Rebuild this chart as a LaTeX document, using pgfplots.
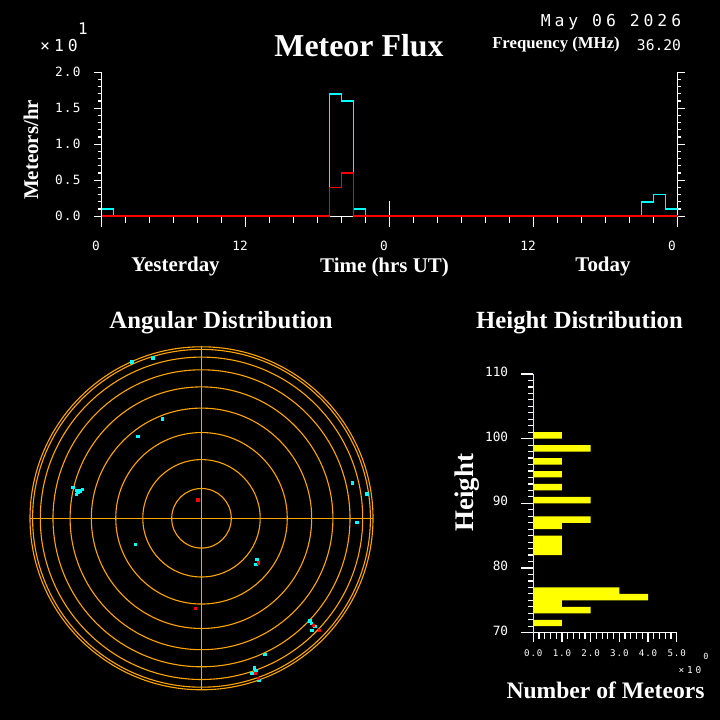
\documentclass[border=0pt]{standalone}
\usepackage{fontspec}
\setmainfont{Liberation Serif}
\newfontfamily\monoA{DejaVu Sans Mono}
\newfontfamily\monoB[LetterSpace=24]{DejaVu Sans Mono}
\newfontfamily\monoC[LetterSpace=10]{DejaVu Sans Mono}
\newfontfamily\monoD[LetterSpace=30]{DejaVu Sans Mono}
\usepackage{pgfplots}
\pgfplotsset{compat=1.18}
\definecolor{hcyan}{RGB}{0,255,255}
\definecolor{hred}{RGB}{255,0,0}
\definecolor{horange}{RGB}{255,165,0}
\definecolor{hyellow}{RGB}{255,255,0}
\newcommand{\ticktop}{\monoC\fontsize{12.8}{13}\selectfont}
\newcommand{\tickh}{\monoA\fontsize{12.8}{13}\selectfont}
\newcommand{\tickhx}{\monoC\fontsize{9.2}{10}\selectfont}
\tikzset{tk/.style={white, line width=1.2bp}}
\begin{document}
\begin{tikzpicture}
\path[use as bounding box] (0,0) rectangle (720bp,720bp);
\fill[black] (0,0) rectangle (720bp,720bp);
% ---------- texts at the top ----------
\node[text=white, inner sep=0, font=\monoB\fontsize{16.5}{17}\selectfont] at (59bp,674bp) {×10};
\node[text=white, inner sep=0, font=\monoB\fontsize{16}{17}\selectfont] at (83bp,691bp) {1};
\node[text=white, inner sep=0, font=\bfseries\fontsize{32}{34}\selectfont] at (359bp,674bp) {Meteor Flux};
\node[text=white, inner sep=0, font=\monoB\fontsize{16.5}{17}\selectfont] at (611bp,698.3bp) {May 06 2026};
\node[text=white, inner sep=0, font=\bfseries\fontsize{16.8}{17}\selectfont] at (556bp,675bp) {Frequency (MHz)};
\node[text=white, inner sep=0, font=\monoA\fontsize{14.7}{15}\selectfont] at (659bp,675bp) {36.20};
\node[text=white, inner sep=0, rotate=90, font=\bfseries\fontsize{21}{22}\selectfont] at (31bp,570bp) {Meteors/hr};
\node[text=white, inner sep=0, font=\bfseries\fontsize{21}{22}\selectfont] at (175.5bp,453bp) {Yesterday};
\node[text=white, inner sep=0, font=\bfseries\fontsize{21}{22}\selectfont] at (384.5bp,453bp) {Time (hrs UT)};
\node[text=white, inner sep=0, font=\bfseries\fontsize{21}{22}\selectfont] at (603bp,453bp) {Today};
\node[text=white, inner sep=0, font=\bfseries\fontsize{24.8}{26}\selectfont] at (221bp,397bp) {Angular Distribution};
\node[text=white, inner sep=0, font=\bfseries\fontsize{24.8}{26}\selectfont] at (579.5bp,397bp) {Height Distribution};
\node[text=white, inner sep=0, rotate=90, font=\bfseries\fontsize{27}{28}\selectfont] at (466.7bp,227.3bp) {Height};
\node[text=white, inner sep=0, font=\bfseries\fontsize{23.7}{25}\selectfont] at (605.5bp,30bp) {Number of Meteors};
\node[text=white, inner sep=0, font=\monoD\fontsize{9.5}{10}\selectfont] at (690bp,50bp) {×10};
\node[text=white, inner sep=0, font=\monoA\fontsize{8.5}{9}\selectfont] at (706bp,64bp) {0};
% ---------- Meteor flux ----------
\begin{axis}[at={(101.5bp,503.7bp)}, anchor=south west, scale only axis,
  width=576bp, height=144bp, xmin=0, xmax=48, ymin=0, ymax=2,
  hide axis, clip=false, no marks]
\draw[tk] (axis cs:0,0) -- (axis cs:48,0);
\draw[tk] (axis cs:0,2) -- (axis cs:0,0) -- ++(0bp,-11bp);
\draw[tk] (axis cs:48,2) -- (axis cs:48,0) -- ++(0bp,-11bp);
\pgfplotsinvokeforeach{0.1,0.2,0.3,0.4,0.6,0.7,0.8,0.9,1.1,1.2,1.3,1.4,1.6,1.7,1.8,1.9}{
  \draw[tk] (axis cs:0,#1) -- ++(-4bp,0bp);
  \draw[tk] (axis cs:48,#1) -- ++(3.5bp,0bp);}
\pgfplotsinvokeforeach{0,0.5,1,1.5,2}{
  \draw[tk] (axis cs:0,#1) -- ++(-8bp,0bp);
  \draw[tk] (axis cs:48,#1) -- ++(7bp,0bp);}
\pgfplotsinvokeforeach{2,4,6,8,10,14,16,18,20,22,26,28,30,32,34,38,40,42,44,46}{
  \draw[tk] (axis cs:#1,0) -- ++(0bp,-7bp);}
\draw[tk] (axis cs:12,0) -- ++(0bp,-11bp);
\draw[tk] (axis cs:36,0) -- ++(0bp,-11bp);
\draw[tk] (axis cs:24,0) ++(0bp,15bp) -- ++(0bp,-26bp);
\node[anchor=east, inner sep=0, text=white, font=\ticktop, xshift=-20.7bp] at (axis cs:0,0) {0.0};
\node[anchor=east, inner sep=0, text=white, font=\ticktop, xshift=-20.7bp] at (axis cs:0,0.5) {0.5};
\node[anchor=east, inner sep=0, text=white, font=\ticktop, xshift=-20.7bp] at (axis cs:0,1) {1.0};
\node[anchor=east, inner sep=0, text=white, font=\ticktop, xshift=-20.7bp] at (axis cs:0,1.5) {1.5};
\node[anchor=east, inner sep=0, text=white, font=\ticktop, xshift=-20.7bp] at (axis cs:0,2) {2.0};
\node[inner sep=0, text=white, font=\tickh, xshift=-5.5bp, yshift=-29.4bp] at (axis cs:0,0) {0};
\node[inner sep=0, text=white, font=\tickh, xshift=-5.5bp, yshift=-29.4bp] at (axis cs:12,0) {12};
\node[inner sep=0, text=white, font=\tickh, xshift=-5.5bp, yshift=-29.4bp] at (axis cs:24,0) {0};
\node[inner sep=0, text=white, font=\tickh, xshift=-5.5bp, yshift=-29.4bp] at (axis cs:36,0) {12};
\node[inner sep=0, text=white, font=\tickh, xshift=-5.5bp, yshift=-29.4bp] at (axis cs:48,0) {0};
\addplot[hcyan, line width=1.6bp, const plot] coordinates {
 (0,0.1) (1,0) (2,0) (3,0) (4,0) (5,0) (6,0) (7,0) (8,0) (9,0) (10,0) (11,0)
 (12,0) (13,0) (14,0) (15,0) (16,0) (17,0) (18,0) (19,1.7) (20,1.6) (21,0.1) (22,0) (23,0)
 (24,0) (25,0) (26,0) (27,0) (28,0) (29,0) (30,0) (31,0) (32,0) (33,0) (34,0) (35,0)
 (36,0) (37,0) (38,0) (39,0) (40,0) (41,0) (42,0) (43,0) (44,0) (45,0.2) (46,0.3) (47,0.1) (48,0.1)};
\addplot[hred, line width=1.6bp, const plot] coordinates {
 (0,0) (1,0) (2,0) (3,0) (4,0) (5,0) (6,0) (7,0) (8,0) (9,0) (10,0) (11,0)
 (12,0) (13,0) (14,0) (15,0) (16,0) (17,0) (18,0) (19,0.4) (20,0.6) (21,0) (22,0) (23,0)
 (24,0) (25,0) (26,0) (27,0) (28,0) (29,0) (30,0) (31,0) (32,0) (33,0) (34,0) (35,0)
 (36,0) (37,0) (38,0) (39,0) (40,0) (41,0) (42,0) (43,0) (44,0) (45,0) (46,0) (47,0) (48,0)};
\end{axis}
% ---------- Angular distribution ----------
\begin{axis}[at={(201.5bp,201.7bp)}, anchor=center, scale only axis,
  width=343bp, height=343bp, xmin=-1, xmax=1, ymin=-1, ymax=1,
  hide axis, clip=false]
\draw[horange, line width=1.1bp] (axis cs:-1,0) -- (axis cs:1,0);
\draw[horange, line width=1.1bp] (axis cs:0,-1) -- (axis cs:0,1);
\pgfplotsinvokeforeach{29.8,58.7,85.75,110.2,131.4,148.5,161.2,168.9,171.5}{
  \draw[horange, line width=1.1bp] (axis cs:0,0) circle[radius=#1bp];}
\addplot[only marks, mark=square*, mark size=1.2bp, hcyan] coordinates {
 (-0.284,0.937) (-0.408,0.912) (-0.229,0.581) (-0.373,0.478)
 (-0.752,0.183) (-0.727,0.165) (-0.723,0.155) (-0.707,0.161) (-0.694,0.169) (-0.731,0.140)
 (-0.385,-0.152) (0.877,0.208) (0.964,0.144) (0.906,-0.023)
 (0.323,-0.237) (0.317,-0.266) (0.630,-0.597) (0.639,-0.612) (0.661,-0.628) (0.643,-0.651)
 (0.369,-0.793) (0.309,-0.871) (0.315,-0.884) (0.293,-0.904) (0.334,-0.943)};
\addplot[only marks, mark=square*, mark size=1.2bp, hred] coordinates {
 (-0.023,0.109) (-0.037,-0.525) (0.332,-0.259) (0.653,-0.622) (0.688,-0.651)
 (0.313,-0.904) (0.332,-0.933)};
\end{axis}
% ---------- Height distribution ----------
\begin{axis}[at={(533.3bp,87.3bp)}, anchor=south west, scale only axis,
  width=143.4bp, height=258.7bp, xmin=0, xmax=5, ymin=70, ymax=110,
  hide axis, clip=false]
\draw[tk] (axis cs:0,70) -- (axis cs:5,70);
\pgfplotsinvokeforeach{71,72,73,74,75,76,77,78,79,81,82,83,84,85,86,87,88,89,91,92,93,94,95,96,97,98,99,101,102,103,104,105,106,107,108,109}{
  \draw[tk] (axis cs:0,#1) -- ++(-5bp,0bp);}
\pgfplotsinvokeforeach{70,80,90,100,110}{
  \draw[tk] (axis cs:0,#1) -- ++(-12bp,0bp);}
\pgfplotsinvokeforeach{0.2,0.4,0.6,0.8,1.2,1.4,1.6,1.8,2.2,2.4,2.6,2.8,3.2,3.4,3.6,3.8,4.2,4.4,4.6,4.8}{
  \draw[tk] (axis cs:#1,70) -- ++(0bp,-6bp);}
\pgfplotsinvokeforeach{0,1,2,3,4,5}{
  \draw[tk] (axis cs:#1,70) -- ++(0bp,-9bp);}
\node[anchor=east, inner sep=0, text=white, font=\tickh, xshift=-25bp, yshift=2bp] at (axis cs:0,70) {70};
\node[anchor=east, inner sep=0, text=white, font=\tickh, xshift=-25bp, yshift=2bp] at (axis cs:0,80) {80};
\node[anchor=east, inner sep=0, text=white, font=\tickh, xshift=-25bp, yshift=2bp] at (axis cs:0,90) {90};
\node[anchor=east, inner sep=0, text=white, font=\tickh, xshift=-25bp, yshift=2bp] at (axis cs:0,100) {100};
\node[anchor=east, inner sep=0, text=white, font=\tickh, xshift=-25bp, yshift=2bp] at (axis cs:0,110) {110};
\node[inner sep=0, text=white, font=\tickhx, yshift=-20.3bp] at (axis cs:0,70) {0.0};
\node[inner sep=0, text=white, font=\tickhx, yshift=-20.3bp] at (axis cs:1,70) {1.0};
\node[inner sep=0, text=white, font=\tickhx, yshift=-20.3bp] at (axis cs:2,70) {2.0};
\node[inner sep=0, text=white, font=\tickhx, yshift=-20.3bp] at (axis cs:3,70) {3.0};
\node[inner sep=0, text=white, font=\tickhx, yshift=-20.3bp] at (axis cs:4,70) {4.0};
\node[inner sep=0, text=white, font=\tickhx, yshift=-20.3bp] at (axis cs:5,70) {5.0};
\addplot[xbar, bar width=1, bar shift=0, fill=hyellow, draw=none] coordinates {
 (1,100.5) (2,98.5) (1,96.5) (1,94.5) (1,92.5) (2,90.5) (2,87.5) (1,86.5)
 (1,84.5) (1,83.5) (1,82.5) (3,76.5) (4,75.5) (1,74.5) (2,73.5) (1,71.5)};
\draw[hyellow, line width=1.2bp] (axis cs:0,70) -- (axis cs:0,110);
\end{axis}
\end{tikzpicture}
\end{document}
